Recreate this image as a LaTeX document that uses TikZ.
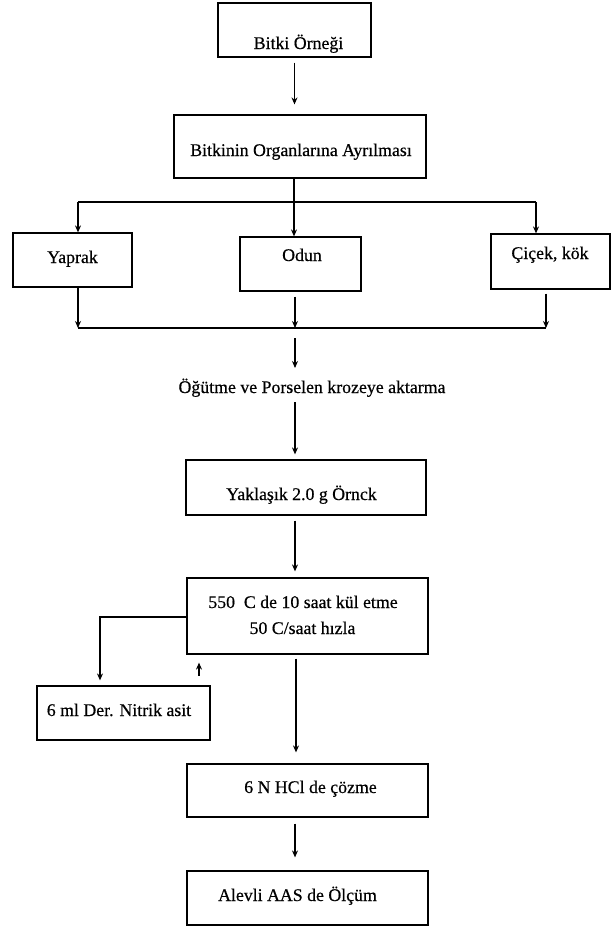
\documentclass[tikz,border=0pt]{standalone}
\usepackage{fontspec}
\setmainfont{Liberation Serif}
\newfontfamily\scanfont[FakeBold=0.5]{Liberation Serif}
\usetikzlibrary{arrows.meta,calc}
\begin{document}
\begin{tikzpicture}[x=1pt,y=-1pt,
  box/.style={draw, line width=1.2pt, inner sep=0pt},
  lbl/.style={anchor=base, inner sep=0pt, font=\scanfont\fontsize{17.8}{21}\selectfont},
  arr/.style={line width=1.1pt, -{Stealth[length=7pt,width=6pt]}},
  ln/.style={line width=1.2pt}]
\useasboundingbox (0,0) rectangle (615,927);
% boxes
\node[box, minimum width=153pt, minimum height=54pt] (bitki) at (294.5,30) {};
\node[box, minimum width=252pt, minimum height=63pt] (organ) at (300,146.5) {};
\node[box, minimum width=119pt, minimum height=54pt] (yaprak) at (72.5,260) {};
\node[box, minimum width=121pt, minimum height=54pt] (odun) at (300.5,264) {};
\node[box, minimum width=119pt, minimum height=55pt] (cicek) at (550.5,261.5) {};
\node[box, minimum width=240pt, minimum height=55pt] (yaklasik) at (306,487.5) {};
\node[box, minimum width=241pt, minimum height=76pt] (kul) at (307.5,616) {};
\node[box, minimum width=173pt, minimum height=54pt] (nitrik) at (123.5,713) {};
\node[box, minimum width=241pt, minimum height=53pt] (hcl) at (307.5,790.5) {};
\node[box, minimum width=241pt, minimum height=54pt] (alevli) at (307.5,898) {};
% texts
\node[lbl] (tbitki) at (298.5,49) {Bitki Örneği};
\node[lbl] (torgan) at (301,156) {Bitkinin Organlarına Ayrılması};
\node[lbl] (tyaprak) at (72.5,263) {Yaprak};
\node[lbl] (todun) at (302,261) {Odun};
\node[lbl] (tcicek) at (550,259) {Çiçek, kök};
\node[lbl] (ogutme) at (312,393) {Öğütme ve Porselen krozeye aktarma};
\node[lbl] (tyaklasik) at (301.5,500) {Yaklaşık 2.0 g Örnck};
\node[lbl] (tkul1) at (303,608) {550\ \ C de 10 saat kül etme};
\node[lbl] (tkul2) at (302.5,634) {50 C/saat hızla};
\node[lbl] (tnitrik) at (119,716) {6 ml Der. Nitrik asit};
\node[lbl] (thcl) at (310.5,793) {6 N HCl de çözme};
\node[lbl] (talevli) at (297.5,901) {Alevli AAS de Ölçüm};
% helper coordinates
\coordinate (split) at (294,202);
\coordinate (bl) at (78,202);
\coordinate (br) at (536,202);
\coordinate (jl) at (78,328);
\coordinate (jm) at (295,328);
\coordinate (jr) at (546,328);
\coordinate (kl) at (100,617);
% connectors
\draw[arr] ($(bitki.south)+(0,5)$) -- ($(bitki.south |- organ.north)+(0,-10)$);
\draw[ln] (split |- organ.south) -- (split);
\draw[ln] (bl) -- (br);
\draw[arr] (bl) -- (bl |- yaprak.north);
\draw[arr] (split) -- (split |- odun.north);
\draw[arr] (br) -- (br |- cicek.north);
\draw[arr] (jl |- yaprak.south) -- (jl);
\draw[arr] ($(jm |- odun.south)+(0,5)$) -- (jm);
\draw[arr] ($(jr |- cicek.south)+(0,4)$) -- (jr);
\draw[ln] (jl) -- (jr);
\draw[arr] ($(jm)+(0,10)$) -- ($(jm)+(0,40)$);
\draw[arr] ($(jm)+(0,74)$) -- ($(jm |- yaklasik.north)+(0,-5)$);
\draw[arr] ($(yaklasik.south)+(-11,5)$) -- ($(kul.north)+(-12.5,-6)$);
\draw[arr] (kul.west |- kl) -- (kl) -- ($(kl |- nitrik.north)+(0,-5)$);
\draw[arr] ($(kul.south)+(-108.5,21)$) -- ($(kul.south)+(-108.5,8)$);
\draw[arr] ($(kul.south)+(-11.5,4)$) -- ($(hcl.north)+(-11.5,-11)$);
\draw[arr] ($(hcl.south)+(-12.5,6)$) -- ($(alevli.north)+(-12.5,-13)$);
\end{tikzpicture}
\end{document}
